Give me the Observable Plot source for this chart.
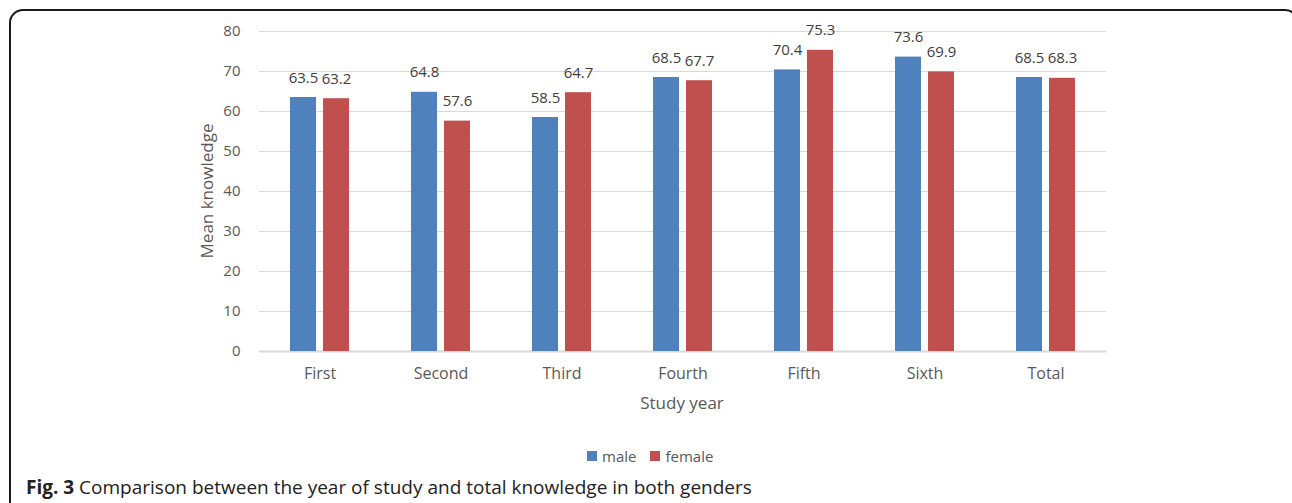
<!DOCTYPE html>
<html>
<head>
<meta charset="utf-8">
<script src="https://cdn.jsdelivr.net/npm/d3@7"></script>
<script src="https://cdn.jsdelivr.net/npm/@observablehq/plot@0.6"></script>
<style>
  html, body { margin: 0; padding: 0; background: #fff; }
  body { width: 1292px; height: 503px; position: relative; overflow: hidden; font-family: "Open Sans", sans-serif; }
  #frame { position: absolute; left: 9px; top: 9px; width: 1290px; height: 560px; border: 2px solid #1a1a1a; border-radius: 14px; box-sizing: border-box; }
  #chart { position: absolute; left: 0; top: 0; }
  #legend { position: absolute; top: 446px; left: 587px; display: flex; align-items: center; font-size: 15px; color: #595959; }
  #legend .sw { width: 10px; height: 10px; display: inline-block; margin-right: 5px; }
  #legend .item { display: flex; align-items: center; margin-right: 14px; }
  #caption { position: absolute; left: 26px; top: 476px; font-size: 19px; line-height: 22px; color: #222; white-space: nowrap; }
  #caption b { font-weight: 700; }
  .axis-title { position: absolute; font-size: 17px; color: #595959; white-space: nowrap; line-height: 20px; }
  #ytitle { left: 207px; top: 191px; transform: translate(-50%, -50%) rotate(-90deg); }
  #xtitle { left: 682px; top: 393px; transform: translateX(-50%); }
</style>
</head>
<body>
<div id="frame"></div>
<div id="chart"></div>
<div id="ytitle" class="axis-title">Mean knowledge</div>
<div id="xtitle" class="axis-title">Study year</div>
<div id="legend"></div>
<div id="caption"><b>Fig. 3</b> Comparison between the year of study and total knowledge in both genders</div>
<script>
const years = ["First", "Second", "Third", "Fourth", "Fifth", "Sixth", "Total"];
const genders = ["male", "female"];
const maleValues = [63.5, 64.8, 58.5, 68.5, 70.4, 73.6, 68.5];
const femaleValues = [63.2, 57.6, 64.7, 67.7, 75.3, 69.9, 68.3];
const yTicks = [0, 10, 20, 30, 40, 50, 60, 70, 80];
const colors = ["#4f81bd", "#c0504d"];

const data = [];
years.forEach((y, i) => {
  data.push({year: y, gender: "male", value: maleValues[i]});
  data.push({year: y, gender: "female", value: femaleValues[i]});
});

const textColor = "#595959";

const chart = Plot.plot({
  width: 1292,
  height: 420,
  marginLeft: 258,
  marginRight: 186,
  marginTop: 31,
  marginBottom: 69,
  style: { fontFamily: "Open Sans", fontSize: "15px", color: textColor, background: "transparent" },
  fx: { domain: years, padding: 0, label: null, axis: null },
  x: { domain: genders, paddingInner: 0.2, paddingOuter: 0.88, axis: null },
  y: { domain: [0, 80], axis: null },
  color: { domain: genders, range: colors },
  marks: [
    Plot.gridY(yTicks, { stroke: "#d9d9d9", strokeOpacity: 1, strokeWidth: 1 }),
    Plot.ruleY([0], { stroke: "#d9d9d9", strokeWidth: 2 }),
    Plot.barY(data, { fx: "year", x: "gender", y: "value", fill: "gender" }),
    Plot.text(data, { fx: "year", x: "gender", y: "value", text: d => d.value.toFixed(1), lineAnchor: "bottom", dy: -15, fill: "#404040", fontSize: 15 }),
    Plot.axisY(yTicks, { anchor: "left", tickSize: 0, tickPadding: 19, label: null, fill: textColor, fontSize: 15 }),
    Plot.axisFx({ anchor: "bottom", tickSize: 0, tickPadding: 16, label: null, fill: textColor, fontSize: 16 })
  ]
});
document.getElementById("chart").appendChild(chart);

const legend = document.getElementById("legend");
genders.forEach((g, i) => {
  const item = document.createElement("div");
  item.className = "item";
  item.innerHTML = `<span class="sw" style="background:${colors[i]}"></span><span>${g}</span>`;
  legend.appendChild(item);
});
</script>
</body>
</html>
